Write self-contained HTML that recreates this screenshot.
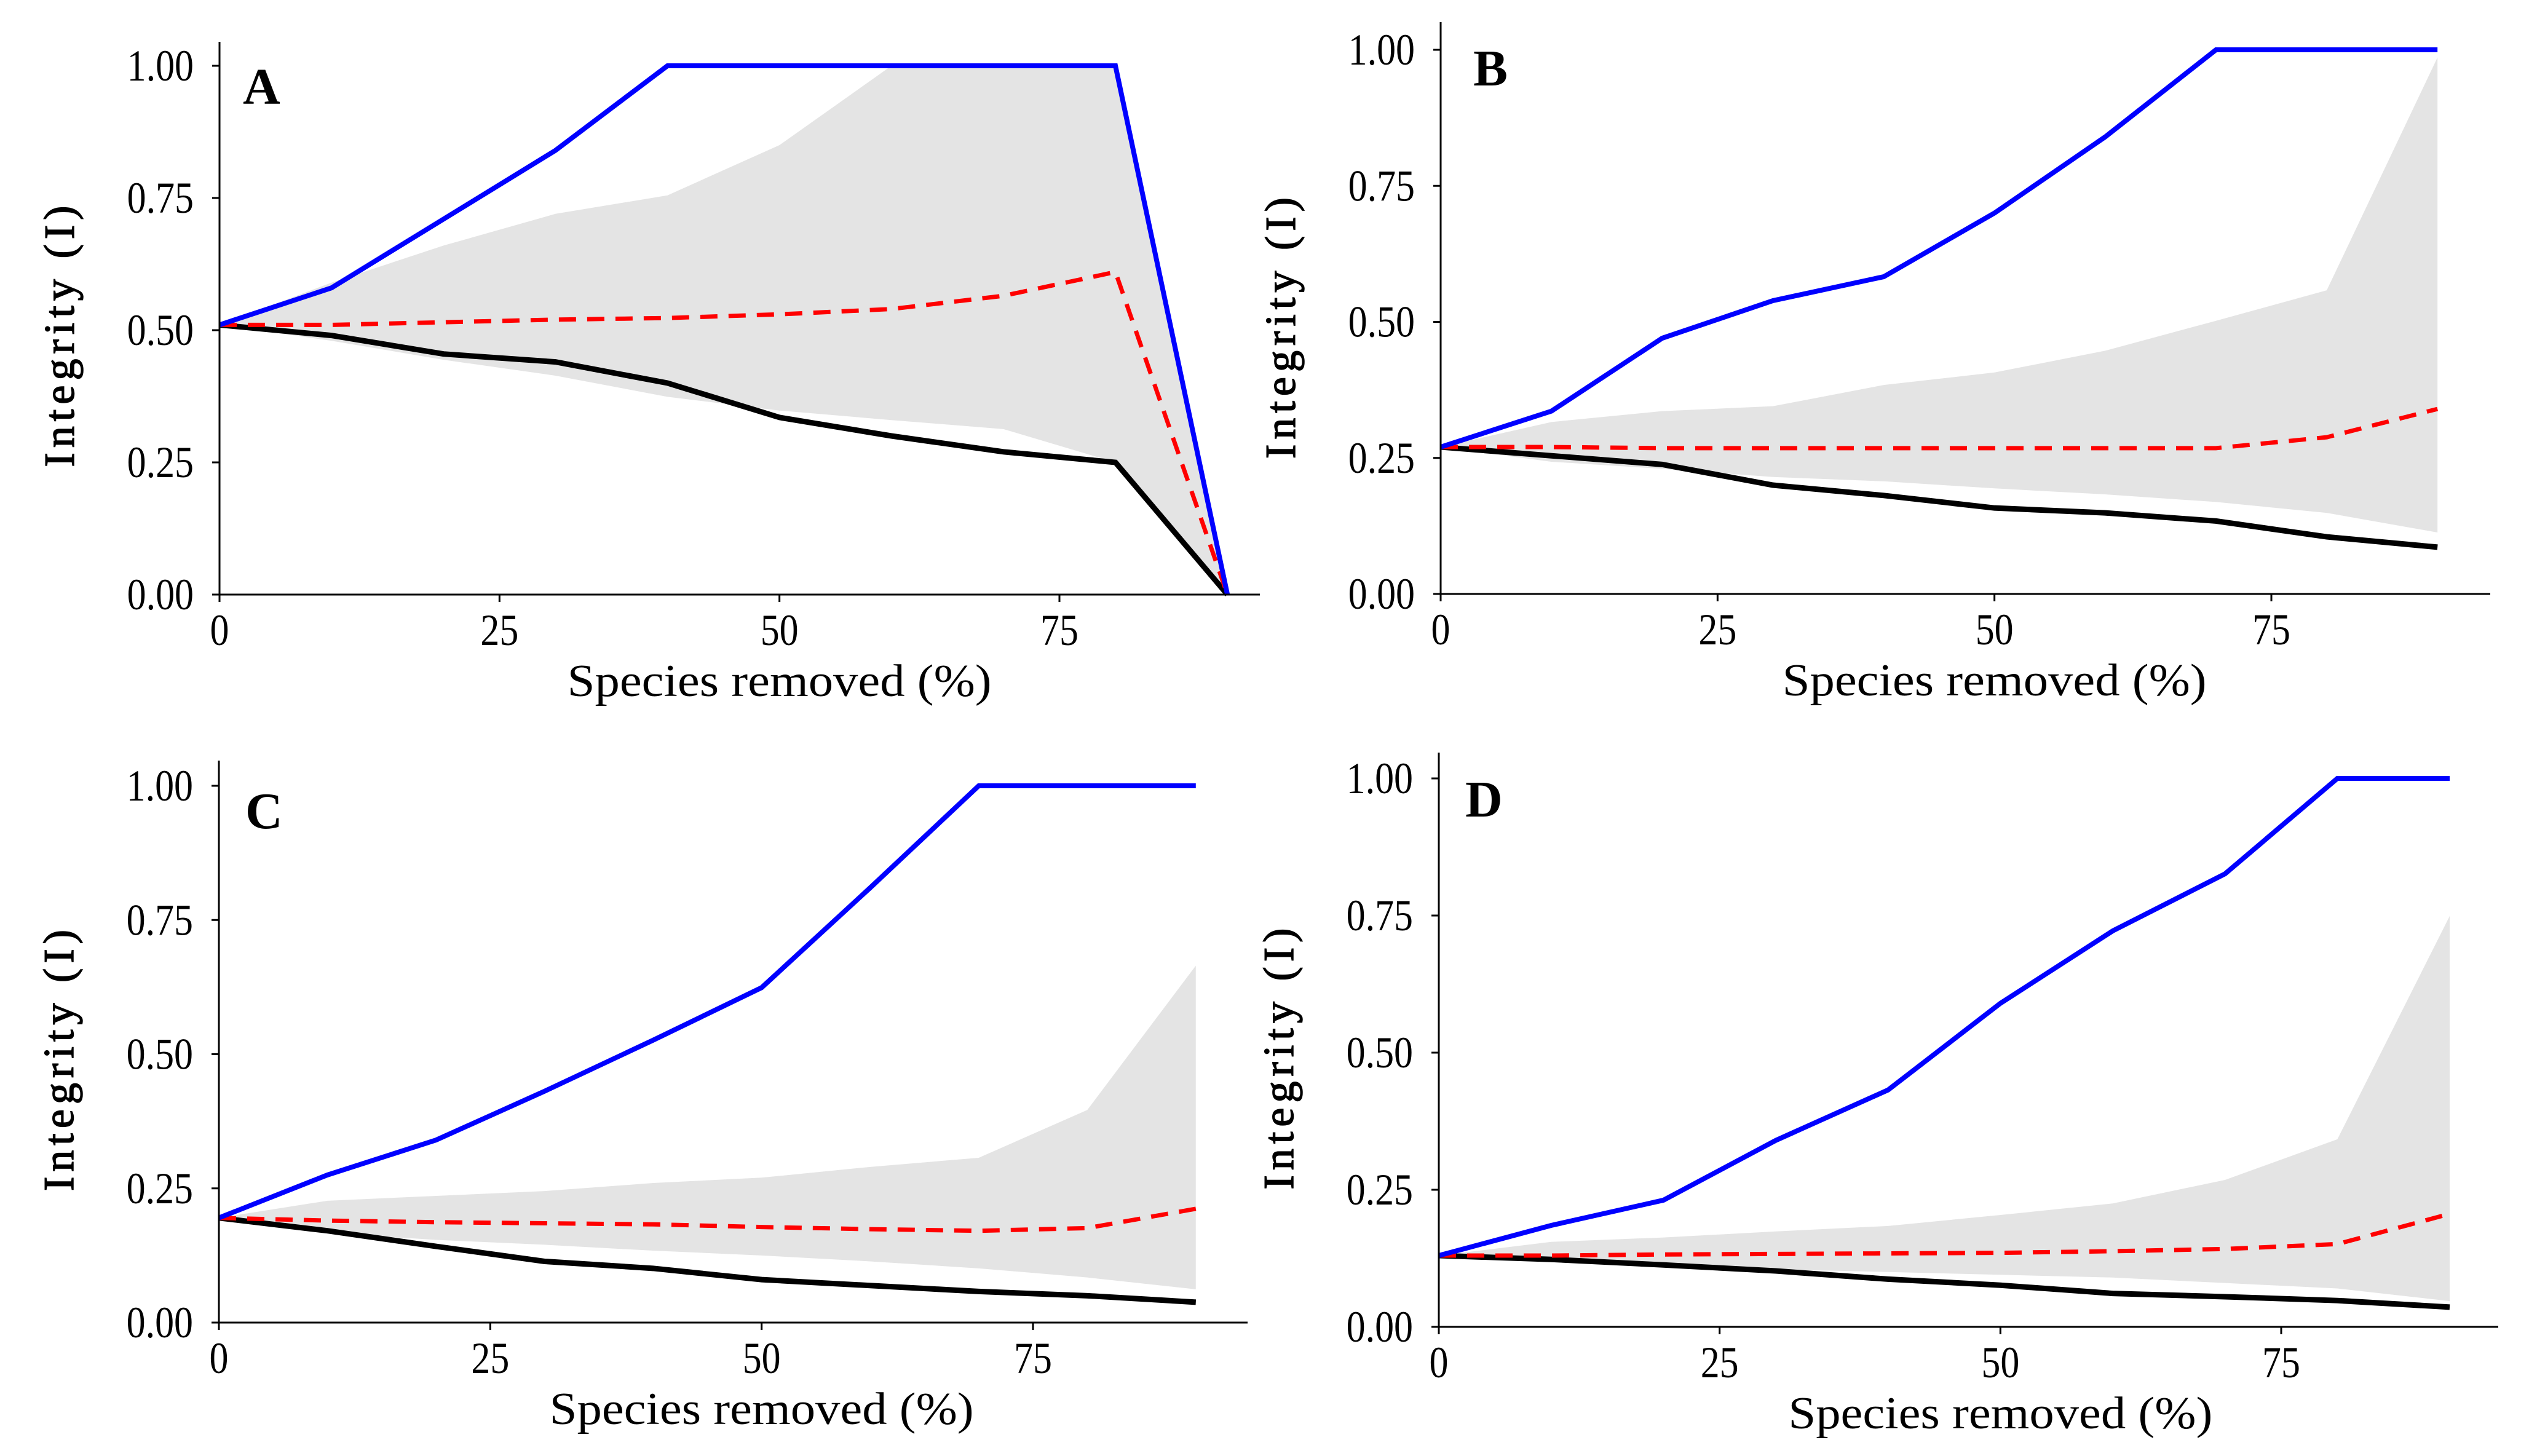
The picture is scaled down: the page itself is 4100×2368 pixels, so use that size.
<!DOCTYPE html>
<html><head><meta charset="utf-8">
<style>
html,body{margin:0;padding:0;background:#fff;}
svg{display:block;}
text{font-family:"Liberation Serif",serif;fill:#000;}
</style></head>
<body>
<svg id="chart" width="4100" height="2368" viewBox="0 0 4100 2368" xmlns="http://www.w3.org/2000/svg"></svg>
<script>
const xValues=[0,10,20,30,40,50,60,70,80,90];
const xTicks=[0,25,50,75];
const yTicks=[0,0.25,0.5,0.75,1];
const yTickLabels=["0.00","0.25","0.50","0.75","1.00"];

const aMax=[0.51,0.58,0.71,0.84,1,1,1,1,1,0];
const aMin=[0.51,0.49,0.455,0.44,0.40,0.335,0.30,0.27,0.25,0];
const aMean=[0.51,0.51,0.515,0.52,0.523,0.53,0.54,0.565,0.61,0];
const aUpper=[0.51,0.59,0.66,0.72,0.755,0.85,1,1,1,0];
const aLower=[0.51,0.48,0.444,0.414,0.374,0.348,0.33,0.313,0.25,0];

const bMax=[0.27,0.336,0.47,0.539,0.583,0.70,0.84,1,1,1];
const bMin=[0.27,0.254,0.238,0.20,0.181,0.158,0.149,0.134,0.105,0.086];
const bMean=[0.27,0.27,0.268,0.268,0.268,0.268,0.268,0.268,0.288,0.34];
const bUpper=[0.27,0.316,0.336,0.345,0.384,0.407,0.447,0.502,0.558,0.986];
const bLower=[0.27,0.243,0.23,0.215,0.207,0.194,0.183,0.169,0.149,0.113];

const cMax=[0.195,0.275,0.34,0.431,0.526,0.624,0.81,1,1,1];
const cMin=[0.195,0.171,0.142,0.114,0.101,0.080,0.069,0.058,0.050,0.038];
const cMean=[0.195,0.19,0.187,0.185,0.183,0.178,0.174,0.171,0.176,0.212];
const cUpper=[0.195,0.227,0.236,0.245,0.26,0.27,0.29,0.307,0.396,0.665];
const cLower=[0.195,0.167,0.154,0.145,0.134,0.125,0.114,0.101,0.084,0.062];

const dMax=[0.13,0.185,0.231,0.34,0.432,0.59,0.722,0.826,1,1];
const dMin=[0.13,0.123,0.113,0.102,0.087,0.076,0.061,0.055,0.048,0.036];
const dMean=[0.13,0.13,0.132,0.133,0.134,0.135,0.138,0.142,0.151,0.206];
const dUpper=[0.13,0.155,0.163,0.174,0.184,0.204,0.225,0.268,0.342,0.749];
const dLower=[0.13,0.12,0.11,0.105,0.10,0.095,0.09,0.08,0.07,0.047];

const NS="http://www.w3.org/2000/svg";
const svg=document.getElementById('chart');
function mk(tag,attrs,parent){const e=document.createElementNS(NS,tag);for(const k in attrs)e.setAttribute(k,attrs[k]);parent.appendChild(e);return e;}

const panels=[
 {id:'a',letter:'A',x0:357,x75:1723,y0:967,y1:107,top:68,right:2049,lx:395,ly:165,max:aMax,min:aMin,mean:aMean,up:aUpper,lo:aLower},
 {id:'b',letter:'B',x0:2343,x75:3694,y0:966,y1:81,top:36,right:4050,lx:2396,ly:135,max:bMax,min:bMin,mean:bMean,up:bUpper,lo:bLower},
 {id:'c',letter:'C',x0:356,x75:1680,y0:2151,y1:1278,top:1237,right:2029,lx:399,ly:1343,max:cMax,min:cMin,mean:cMean,up:cUpper,lo:cLower},
 {id:'d',letter:'D',x0:2340,x75:3710,y0:2158,y1:1266,top:1224,right:4063,lx:2383,ly:1324,max:dMax,min:dMin,mean:dMean,up:dUpper,lo:dLower}
];

panels.forEach(p=>{
 const g=mk('g',{},svg);
 
 
 const xs=v=>p.x0+(p.x75-p.x0)*v/75;
 const ys=v=>p.y0-(p.y0-p.y1)*v;
 let d='M'+xValues.map((x,i)=>xs(x)+','+ys(p.up[i])).join(' L');
 for(let i=xValues.length-1;i>=0;i--) d+=' L'+xs(xValues[i])+','+ys(p.lo[i]);
 const band=mk('path',{d:d+' Z',fill:'#e4e4e4',stroke:'none'},g);
 
 
 const line=(arr,color,w,dash,name)=>{
  const el=mk('polyline',{points:xValues.map((x,i)=>xs(x)+','+ys(arr[i])).join(' '),fill:'none',stroke:color,'stroke-width':w,'stroke-linejoin':'miter'},g);
  if(dash)el.setAttribute('stroke-dasharray',dash);
  
  
 };
 line(p.min,'#000',9,null,'min-line-'+p.id);
 line(p.mean,'#ff0000',7,'28 18','mean-line-'+p.id);
 line(p.max,'#0000ff',8,null,'max-line-'+p.id);
 const ya=mk('line',{x1:p.x0,y1:p.top,x2:p.x0,y2:p.y0+12,stroke:'#000','stroke-width':3},g);
 
 
 const xa=mk('line',{x1:p.x0-12,y1:p.y0,x2:p.right,y2:p.y0,stroke:'#000','stroke-width':3},g);
 
 
 yTicks.forEach((v,i)=>{
  mk('line',{x1:p.x0-12,y1:ys(v),x2:p.x0,y2:ys(v),stroke:'#000','stroke-width':3},g);
  const t=mk('text',{x:0,y:0,'text-anchor':'end','font-size':72,transform:'translate('+(p.x0-42)+','+(ys(v)+24)+') scale(0.86,1)'},g);
  t.textContent=yTickLabels[i];
  
  
 });
 xTicks.forEach(v=>{
  mk('line',{x1:xs(v),y1:p.y0,x2:xs(v),y2:p.y0+12,stroke:'#000','stroke-width':3},g);
  const t=mk('text',{x:0,y:0,'text-anchor':'middle','font-size':72,transform:'translate('+xs(v)+','+(p.y0+82)+') scale(0.86,1)'},g);
  t.textContent=String(v);
  
  
 });
 const xt=mk('text',{x:xs(50),y:p.y0+165,'text-anchor':'middle','font-size':74,textLength:690,lengthAdjust:'spacingAndGlyphs'},g);
 xt.textContent='Species removed (%)';
 
 
 const yc=ys(0.5)+10, yx=p.x0-237;
 const yt=mk('text',{x:0,y:0,'text-anchor':'middle','font-size':70,textLength:425,lengthAdjust:'spacing',stroke:'#000','stroke-width':1.5,transform:'translate('+yx+','+yc+') rotate(-90)'},g);
 yt.textContent='Integrity (I)';
 
 
 const lt=mk('text',{x:p.lx,y:p.ly+4,'font-size':84,'font-weight':'bold'},g);
 lt.textContent=p.letter;
 
 
});
</script>
</body></html>
